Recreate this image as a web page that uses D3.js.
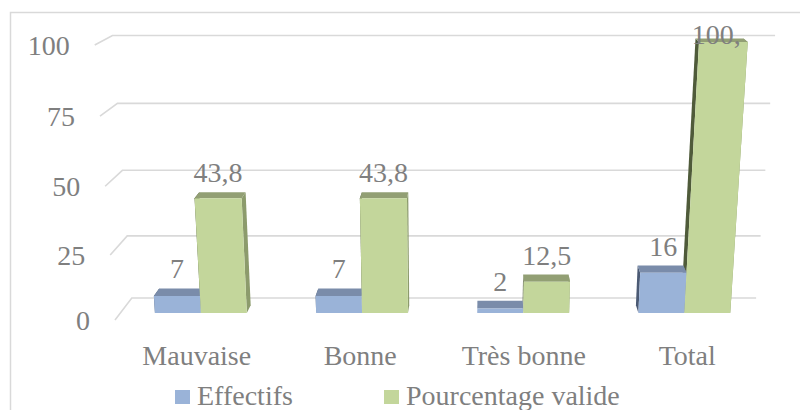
<!DOCTYPE html>
<html>
<head>
<meta charset="UTF-8">
<script src="https://d3js.org/d3.v7.min.js"></script>
</head>
<body style="margin:0">
<script>
    const categories = ["Mauvaise", "Bonne", "Très bonne", "Total"];
    const series = ["Effectifs", "Pourcentage valide"];
    const effectifs = [7, 7, 2, 16];
    const pourcentages = [43.8, 43.8, 12.5, 100];
    const ticks = [0, 25, 50, 75, 100];

    const width = 800, height = 410;
    const font = "Liberation Serif";
    const colors = {
        "Effectifs": { front: "#9ab3d8", top: "#7a8caa", left: "#4b5a74", right: "#7d8fae" },
        "Pourcentage valide": { front: "#c3d69b", top: "#929f74", left: "#4f5b3a", right: "#8c9b6c" }
    };

    const svg = d3.select("body").append("svg")
        .attr("width", width).attr("height", height)
        .style("display", "block");

    // chart border
    svg.append("rect")
        .attr("x", 10.5).attr("y", 12.5)
        .attr("width", width).attr("height", height)
        .attr("fill", "none").attr("stroke", "#d9d9d9").attr("stroke-width", 1.5);

    // value scale on the front plane, slight perspective
    const y = d3.scalePow().exponent(1.04).domain([0, 100]).range([320, 45]);
    const x = d3.scaleBand().domain(categories).range([115, 769])
        .paddingInner(0.43).paddingOuter(0.215);
    const xs = d3.scaleBand().domain(series).range([0, x.bandwidth()]);

    // fake 3d: vanishing points for verticals and for depth
    const VV = { x: 445, y: 4800 };
    const VD = { x: 485, y: -165 };
    const tWall = 0.0454, tFront = 0.0144, tBack = 0.0304;

    function proj(u, v, t) {
        const y0 = y(v);
        const x0 = VV.x + (u - VV.x) * (VV.y - y0) / (VV.y - y(0));
        return [x0 + t * (VD.x - x0), y0 + t * (VD.y - y0)];
    }

    // gridlines (side wall + back wall)
    const line = d3.line();
    svg.append("g").selectAll("path")
        .data(ticks)
        .join("path")
        .attr("d", v => line([proj(115, v, 0), proj(115, v, tWall), proj(769, v, tWall)]))
        .attr("fill", "none")
        .attr("stroke", "#d9d9d9")
        .attr("stroke-width", 1.6);

    svg.append("g").selectAll("text")
        .data(ticks)
        .join("text")
        .attr("x", v => proj(115, v, 0)[0] - 25)
        .attr("y", v => proj(115, v, 0)[1] + 10)
        .attr("text-anchor", "end")
        .style("font-family", font)
        .attr("font-size", 28)
        .attr("fill", "#7f7f7f")
        .text(v => v);

    // bars
    const bars = [];
    categories.forEach((c, i) => {
        bars.push({ cat: c, s: series[0], v: effectifs[i] });
        bars.push({ cat: c, s: series[1], v: pourcentages[i] });
    });

    function faces(d) {
        const u0 = x(d.cat) + xs(d.s), u1 = u0 + xs.bandwidth();
        const FBL = proj(u0, 0, tFront), FBR = proj(u1, 0, tFront);
        const FTL = proj(u0, d.v, tFront), FTR = proj(u1, d.v, tFront);
        const BBL = proj(u0, 0, tBack), BBR = proj(u1, 0, tBack);
        const BTL = proj(u0, d.v, tBack), BTR = proj(u1, d.v, tBack);
        return {
            left: [FBL, FTL, BTL, BBL],
            right: [FBR, FTR, BTR, BBR],
            top: [FTL, FTR, BTR, BTL],
            front: [FBL, FBR, FTR, FTL]
        };
    }

    const gBars = svg.append("g");
    function face(d, name) {
        gBars.append("path")
            .attr("d", line(faces(d)[name]) + "Z")
            .attr("fill", colors[d.s][name]);
    }

    categories.forEach(c => {
        const b = bars.find(d => d.cat === c && d.s === series[0]);
        const g = bars.find(d => d.cat === c && d.s === series[1]);
        face(g, "left"); face(g, "right");
        face(b, "left"); face(b, "right");
        face(b, "top"); face(b, "front");
        face(g, "top"); face(g, "front");
    });

    // value labels; the 100,0 label is cut to "100," at the plot edge like in Excel
    const fmt = v => Number.isInteger(v) ? String(v) : v.toFixed(1).replace(".", ",");
    svg.append("g").selectAll("text")
        .data(bars)
        .join("text")
        .style("font-family", font)
        .attr("font-size", 28)
        .attr("fill", "#7f7f7f")
        .attr("text-anchor", d => d.v === 100 ? "start" : "middle")
        .attr("x", d => {
            const f = faces(d);
            const cx = (f.front[2][0] + f.front[3][0]) / 2;
            return d.v === 100 ? cx - 31.5 : cx;
        })
        .attr("y", d => Math.max(faces(d).top[2][1] - 10, 44))
        .text(d => d.v === 100 ? "100," : fmt(d.v));

    // category labels
    svg.append("g").selectAll("text")
        .data(categories)
        .join("text")
        .attr("x", c => x(c) + x.bandwidth() / 2)
        .attr("y", 365)
        .attr("text-anchor", "middle")
        .style("font-family", font)
        .attr("font-size", 28)
        .attr("fill", "#7f7f7f")
        .text(c => c);

    // legend
    const legendX = [175, 384];
    const legend = svg.append("g").selectAll("g")
        .data(series)
        .join("g")
        .attr("transform", (s, i) => `translate(${legendX[i]}, 390)`);
    legend.append("rect")
        .attr("width", 15).attr("height", 14)
        .attr("fill", s => colors[s].front);
    legend.append("text")
        .attr("x", 22).attr("y", 14.5)
        .style("font-family", font)
        .attr("font-size", 28)
        .attr("fill", "#7f7f7f")
        .text(s => s);
</script>
</body>
</html>
